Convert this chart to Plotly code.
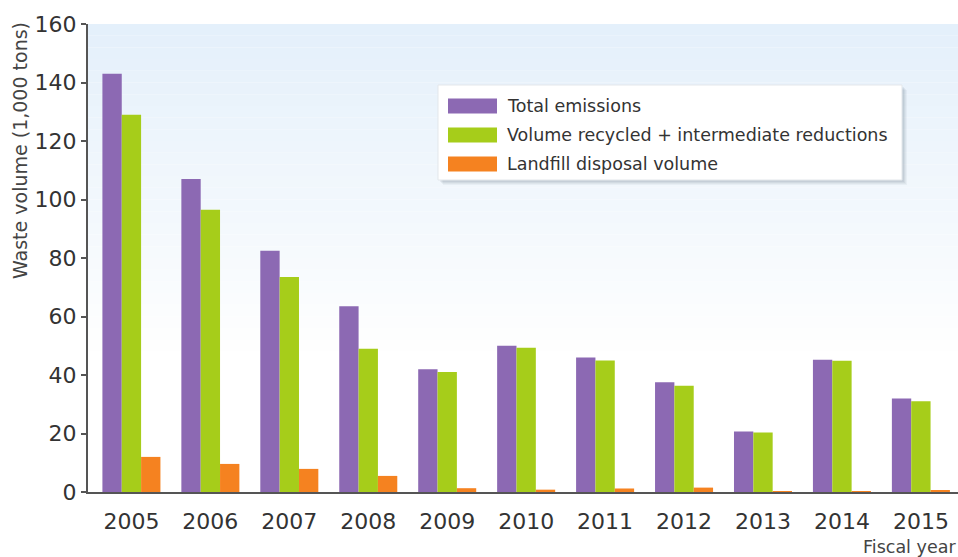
import plotly.graph_objects as go

years = ["2005", "2006", "2007", "2008", "2009", "2010", "2011", "2012", "2013", "2014", "2015"]
total_emissions = [143, 107, 82.5, 63.5, 42, 50, 46, 37.5, 20.7, 45.2, 32]
recycled = [129, 96.5, 73.5, 49, 41, 49.3, 45, 36.3, 20.3, 44.9, 31]
landfill = [12, 9.6, 7.9, 5.5, 1.3, 0.8, 1.2, 1.5, 0.15, 0.3, 0.4]

series_names = ["Total emissions", "Volume recycled + intermediate reductions", "Landfill disposal volume"]
series_values = [total_emissions, recycled, landfill]
series_colors = ["#8c69b3", "#a6cd1a", "#f58220"]

FONT = "DejaVu Sans"

# plot-area geometry in pixels (for placing the legend box and titles)
W, H = 958, 557
ML, MR, MT, MB = 88, 0, 24, 65
PW, PH = W - ML - MR, H - MT - MB


def px(x):
    return (x - ML) / PW


def py(y):
    return (H - MB - y) / PH


fig = go.Figure()
for name, vals, col in zip(series_names, series_values, series_colors):
    fig.add_trace(go.Bar(x=years, y=vals, name=name, marker=dict(color=col, line=dict(width=0)),
                         showlegend=False))

# soft blue gradient background in plot area
shapes = []
n = 40
top_rgb = (228, 240, 251)
for i in range(n):
    y1 = 1 - i / n
    y0 = 1 - (i + 1) / n
    t = min(1.0, (i + 0.5) / (n * 0.7))
    r = int(top_rgb[0] + (255 - top_rgb[0]) * t)
    g = int(top_rgb[1] + (255 - top_rgb[1]) * t)
    b = int(top_rgb[2] + (255 - top_rgb[2]) * t)
    shapes.append(dict(type="rect", xref="paper", yref="paper", x0=0, x1=1, y0=y0, y1=y1,
                       fillcolor=f"rgb({r},{g},{b})", line=dict(width=0), layer="below"))

# legend box with soft shadow
for off, alpha in [(5, 0.05), (4, 0.06), (3, 0.07), (2, 0.08)]:
    shapes.append(dict(type="rect", xref="paper", yref="paper",
                       x0=px(438 + off), x1=px(902 + off), y0=py(180 + off), y1=py(85 + off),
                       fillcolor=f"rgba(60,80,100,{alpha})", line=dict(width=0), layer="above"))
shapes.append(dict(type="rect", xref="paper", yref="paper",
                   x0=px(438), x1=px(902), y0=py(180), y1=py(85),
                   fillcolor="white", line=dict(color="#e3e7eb", width=1), layer="above"))

annotations = []
row_centers = [106, 135, 164]
for name, col, yc in zip(series_names, series_colors, row_centers):
    shapes.append(dict(type="rect", xref="paper", yref="paper",
                       x0=px(448), x1=px(497), y0=py(yc + 7.5), y1=py(yc - 7.5),
                       fillcolor=col, line=dict(width=0), layer="above"))
    annotations.append(dict(text=name, xref="paper", yref="paper", x=px(505), y=py(yc),
                            xanchor="left", yanchor="middle", showarrow=False,
                            font=dict(family=FONT, size=17.5, color="#333333")))

annotations.append(dict(text="Fiscal year", xref="paper", yref="paper", x=1, y=py(547),
                        xanchor="right", yanchor="middle", showarrow=False,
                        font=dict(family=FONT, size=17.5, color="#444444")))
annotations.append(dict(text="Waste volume (1,000 tons)", xref="paper", yref="paper",
                        x=px(20), y=py(151), textangle=-90,
                        xanchor="center", yanchor="middle", showarrow=False,
                        font=dict(family=FONT, size=19, color="#444444")))

fig.update_layout(
    width=W, height=H,
    margin=dict(l=ML, r=MR, t=MT, b=MB),
    paper_bgcolor="white",
    plot_bgcolor="rgba(0,0,0,0)",
    font=dict(family=FONT, color="#333333"),
    barmode="group",
    bargap=0.265,
    bargroupgap=0,
    showlegend=False,
    shapes=shapes,
    annotations=annotations,
    xaxis=dict(type="category", range=[-0.55, 10.47], showgrid=False,
               showline=True, linecolor="#555555", linewidth=2,
               ticks="", tickfont=dict(family=FONT, size=22, color="#333333"),
               ticklabelstandoff=9),
    yaxis=dict(range=[0, 160], dtick=20, showgrid=False, zeroline=False,
               showline=True, linecolor="#555555", linewidth=2,
               ticks="outside", ticklen=5, tickwidth=2, tickcolor="#555555",
               tickfont=dict(family=FONT, size=22, color="#333333")),
)

fig.write_html("out.html")
